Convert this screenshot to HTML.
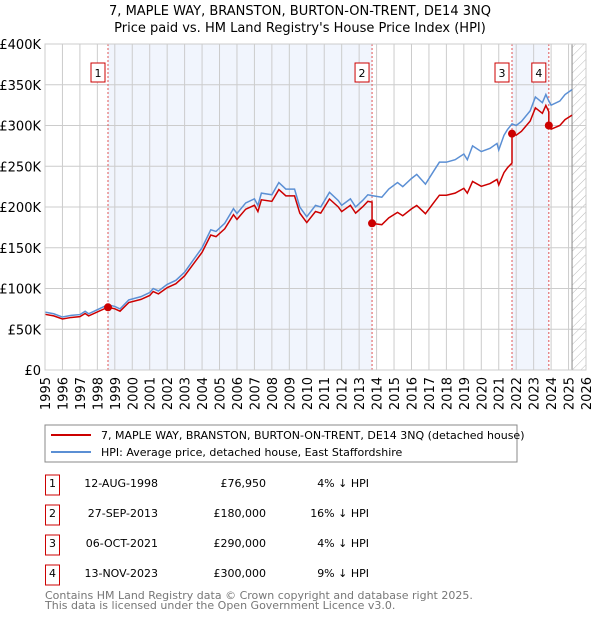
<!DOCTYPE html>
<html><head><meta charset="utf-8"><style>
body{margin:0;background:#fff;font-family:"Liberation Sans","DejaVu Sans",sans-serif;}
svg text{font-family:"DejaVu Sans","Liberation Sans",sans-serif;}
</style></head><body>
<svg id="c" width="600" height="620" xmlns="http://www.w3.org/2000/svg">
<text x="300" y="15" text-anchor="middle" font-size="13">7, MAPLE WAY, BRANSTON, BURTON-ON-TRENT, DE14 3NQ</text>
<text x="300" y="32" text-anchor="middle" font-size="13">Price paid vs. HM Land Registry's House Price Index (HPI)</text>
<g id="plot"></g>
<g>
<rect x="45" y="425" width="472" height="37" fill="#fff" stroke="#888"/>
<line x1="51" y1="435" x2="91" y2="435" stroke="#cc0000" stroke-width="2"/>
<text x="101" y="439" font-size="11">7, MAPLE WAY, BRANSTON, BURTON-ON-TRENT, DE14 3NQ (detached house)</text>
<line x1="51" y1="452" x2="91" y2="452" stroke="#5b8fd4" stroke-width="2"/>
<text x="101" y="456" font-size="11">HPI: Average price, detached house, East Staffordshire</text>
</g>
<g id="table" font-size="11"></g>
<text x="45" y="599" font-size="11" fill="#777">Contains HM Land Registry data © Crown copyright and database right 2025.</text>
<text x="45" y="609" font-size="11" fill="#777">This data is licensed under the Open Government Licence v3.0.</text>
</svg>
<script>
const hpiDates=[1995.0,1995.5,1996.0,1996.5,1997.0,1997.3,1997.5,1998.0,1998.6,1999.0,1999.3,1999.8,2000.5,2001.0,2001.2,2001.5,2002.0,2002.5,2003.0,2003.5,2004.0,2004.5,2004.8,2005.3,2005.8,2006.0,2006.5,2007.0,2007.2,2007.4,2008.0,2008.4,2008.8,2009.3,2009.6,2010.0,2010.5,2010.8,2011.3,2011.8,2012.0,2012.5,2012.8,2013.2,2013.5,2013.74,2014.0,2014.3,2014.7,2015.2,2015.5,2016.0,2016.3,2016.8,2017.3,2017.6,2018.0,2018.5,2019.0,2019.2,2019.5,2020.0,2020.5,2020.9,2021.0,2021.3,2021.5,2021.76,2022.0,2022.3,2022.8,2023.1,2023.5,2023.7,2023.87,2024.0,2024.5,2024.8,2025.2];
const hpiValues=[71,69,65,67,68,72,69,74,80,78,75,86,90,95,100,97,105,110,120,135,150,172,170,180,198,192,205,210,202,217,215,230,222,222,200,188,202,200,218,208,202,210,200,208,215,214,213,212,222,230,225,235,240,228,245,255,255,258,265,258,275,268,272,278,270,288,295,302,300,305,318,335,328,338,330,325,330,338,344];
const saleDates=[1998.61,2013.74,2021.76,2023.87];
const saleLabels=["1","2","3","4"];
const salePrices=[76950,180000,290000,300000];
const saleDateText=["12-AUG-1998","27-SEP-2013","06-OCT-2021","13-NOV-2023"];
const salePriceText=["£76,950","£180,000","£290,000","£300,000"];
const salePctText=["4% ↓ HPI","16% ↓ HPI","4% ↓ HPI","9% ↓ HPI"];
const yTicks=[0,50,100,150,200,250,300,350,400];
const yTickLabels=["£0","£50K","£100K","£150K","£200K","£250K","£300K","£350K","£400K"];
const xYears=[1995,1996,1997,1998,1999,2000,2001,2002,2003,2004,2005,2006,2007,2008,2009,2010,2011,2012,2013,2014,2015,2016,2017,2018,2019,2020,2021,2022,2023,2024,2025,2026];

const NS="http://www.w3.org/2000/svg";
const X0=45,X1=586,Y0=370,Y1=44;
const xs=d=>X0+(d-1995)/(2026-1995)*(X1-X0);
const ys=v=>Y0-v/400*(Y0-Y1);
const plot=document.getElementById('plot');
function mk(tag,attrs,parent){const e=document.createElementNS(NS,tag);for(const k in attrs)e.setAttribute(k,attrs[k]);(parent||plot).appendChild(e);return e;}
function hpiAt(d){for(let i=0;i<hpiDates.length-1;i++){if(d<=hpiDates[i+1]){const t=(d-hpiDates[i])/(hpiDates[i+1]-hpiDates[i]);return hpiValues[i]+t*(hpiValues[i+1]-hpiValues[i]);}}return hpiValues[hpiValues.length-1];}
const lastD=hpiDates[hpiDates.length-1];
[[0,1],[2,3]].forEach((p,i)=>{
 const r=mk('rect',{x:xs(saleDates[p[0]]),y:Y1,width:xs(saleDates[p[1]])-xs(saleDates[p[0]]),height:Y0-Y1,fill:'#eef3fc',opacity:0.8});
 
 
});
const defs=mk('defs',{});
const pat=mk('pattern',{id:'h',width:6,height:6,patternUnits:'userSpaceOnUse',patternTransform:'rotate(45)'},defs);
mk('line',{x1:0,y1:0,x2:0,y2:6,stroke:'#bbb','stroke-width':1},pat);
const hr=mk('rect',{x:xs(lastD),y:Y1,width:X1-xs(lastD),height:Y0-Y1,fill:'url(#h)'});


yTicks.forEach((v,i)=>{
 mk('line',{x1:X0,x2:X1,y1:ys(v),y2:ys(v),stroke:'#ccc'});
 const t=mk('text',{x:X0-4,y:ys(v)+5,'text-anchor':'end','font-size':13});t.textContent=yTickLabels[i];
 
 
});
xYears.forEach(y=>{
 mk('line',{x1:xs(y),x2:xs(y),y1:Y1,y2:Y0,stroke:'#ccc'});
 const t=mk('text',{x:0,y:0,'text-anchor':'end','font-size':13,transform:'translate('+(xs(y)+5)+','+(Y0+7)+') rotate(-90)'});t.textContent=y;
 
 
});
mk('line',{x1:xs(lastD),x2:xs(lastD),y1:Y1,y2:Y0,stroke:'#888'});
saleDates.forEach(d=>{const l=mk('line',{x1:xs(d),x2:xs(d),y1:Y1,y2:Y0,stroke:'#e05555','stroke-dasharray':'2,2'});
 
 });
const hp=mk('polyline',{points:hpiDates.map((d,i)=>xs(d)+','+ys(hpiValues[i])).join(' '),fill:'none',stroke:'#5b8fd4','stroke-width':1.5});


const ratios=saleDates.map((d,i)=>salePrices[i]/1000/hpiAt(d));
const pts=[];
function ratioFor(d){let r=ratios[0];for(let i=0;i<saleDates.length;i++)if(d>=saleDates[i])r=ratios[i];return r;}
const all=hpiDates.concat(saleDates).sort((a,b)=>a-b);
all.forEach(d=>{
 const si=saleDates.indexOf(d);
 if(si>0){pts.push([d,hpiAt(d)*ratios[si-1]]);}
 pts.push([d,hpiAt(d)*ratioFor(d)]);
});
const rp=mk('polyline',{points:pts.map(p=>xs(p[0])+','+ys(p[1])).join(' '),fill:'none',stroke:'#cc0000','stroke-width':1.5});


saleDates.forEach((d,i)=>{
 const c=mk('circle',{cx:xs(d),cy:ys(salePrices[i]/1000),r:4,fill:'#cc0000'});
 
 
 const g=mk('g',{});
 
 
 mk('rect',{x:xs(d)-17,y:63,width:14,height:19,fill:'#fff',stroke:'#cc0000'},g);
 const t=mk('text',{x:xs(d)-10,y:77,'text-anchor':'middle','font-size':11},g);t.textContent=saleLabels[i];
});
mk('rect',{x:X0,y:Y1,width:X1-X0,height:Y0-Y1,fill:'none',stroke:'#ccc'});
const tb=document.getElementById('table');
saleLabels.forEach((l,i)=>{
 const y=487+i*30;
 const g=mk('g',{},tb);
 
 
 mk('rect',{x:45.5,y:y-12,width:14,height:20,fill:'#fff',stroke:'#cc0000'},g);
 let t=mk('text',{x:52.5,y:y,'text-anchor':'middle'},g);t.textContent=l;
 t=mk('text',{x:158,y:y,'text-anchor':'end'},g);t.textContent=saleDateText[i];
 t=mk('text',{x:266,y:y,'text-anchor':'end'},g);t.textContent=salePriceText[i];
 t=mk('text',{x:369,y:y,'text-anchor':'end'},g);t.textContent=salePctText[i];
});
</script>
</body></html>
